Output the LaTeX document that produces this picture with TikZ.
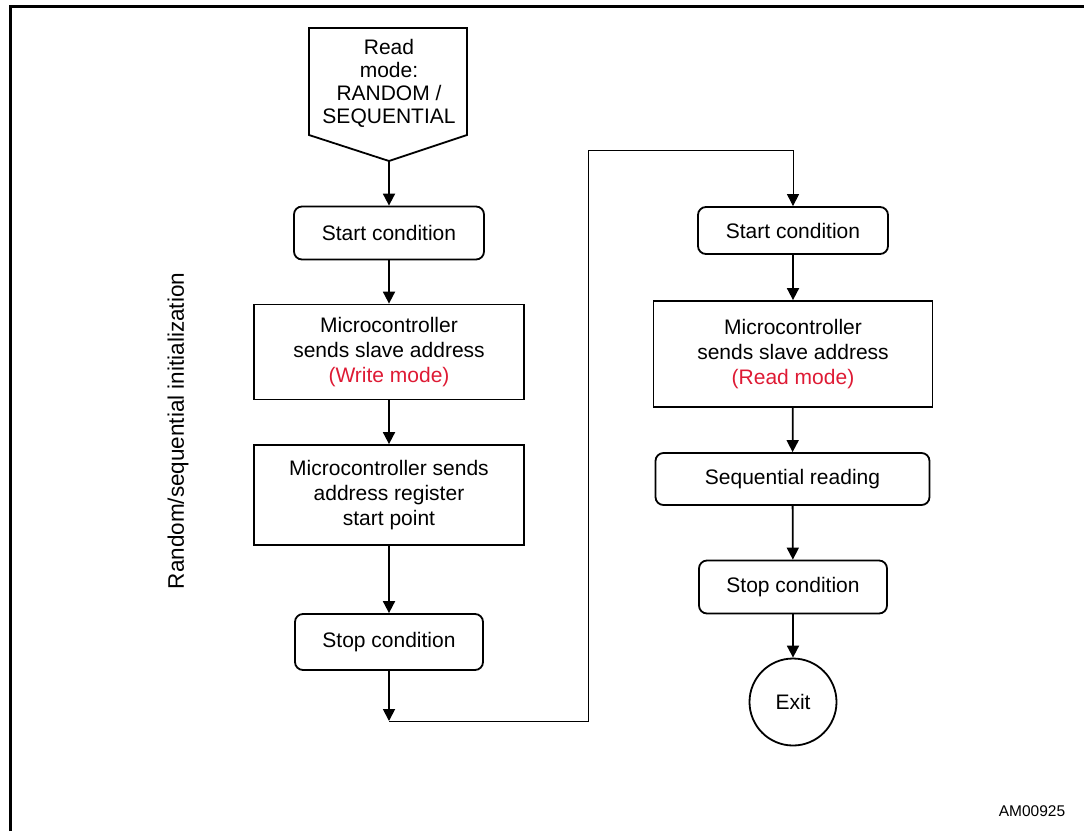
\documentclass[tikz,border=0pt]{standalone}
\usepackage{fontspec}
\setmainfont{Liberation Sans}
\usetikzlibrary{arrows.meta}
\definecolor{redtxt}{RGB}{222,26,52}
\tikzset{
  boxtext/.style={font=\fontsize{21}{25}\selectfont, align=center, inner sep=0pt},
  sqbox/.style={boxtext, draw, line width=1.8pt},
  rbox/.style={sqbox, rounded corners=8pt},
  arr/.style={line width=1.8pt, -{Triangle[width=12pt,length=12pt]}},
  thinarr/.style={line width=1pt, -{Triangle[width=12pt,length=12pt]}},
  loopline/.style={line width=1pt}
}
\begin{document}
\begin{tikzpicture}[x=1pt,y=-1pt]
\useasboundingbox (0,0) rectangle (1084,831);
% frame
\draw[line width=3pt] (10.5,831) -- (10.5,6.5) -- (1084,6.5);

% left column
\draw[line width=1.8pt] (309,28) -- (467,28) -- (467,135) -- (389,161) -- (309,135) -- cycle;
\node[boxtext, font=\fontsize{21}{23}\selectfont] (rm) at (389,83) {Read\\mode:\\RANDOM /\\SEQUENTIAL};
\coordinate (rmtip) at (389,161);

\node[rbox, minimum width=190pt, minimum height=53pt] (start1) at (389,233) {Start condition};
\node[sqbox, minimum width=270pt, minimum height=95pt] (micro1) at (389,352)
  {Microcontroller\\sends slave address\\\textcolor{redtxt}{(Write mode)}};
\node[sqbox, minimum width=270pt, minimum height=100pt] (micro2) at (389,495)
  {Microcontroller sends\\address register\\start point};
\node[rbox, minimum width=188pt, minimum height=56pt] (stop1) at (389,642) {Stop condition};
\coordinate (c1) at (389,721);
\coordinate (c2) at (588,721);
\coordinate (c3) at (588,150);
\coordinate (c4) at (793,150);

% right column
\node[rbox, minimum width=190pt, minimum height=47pt] (start2) at (793,230.5) {Start condition};
\node[sqbox, minimum width=279pt, minimum height=106pt] (micro3) at (793,354)
  {Microcontroller\\sends slave address\\\textcolor{redtxt}{(Read mode)}};
\node[rbox, minimum width=274pt, minimum height=52pt] (seq) at (792.5,479) {Sequential reading};
\node[rbox, minimum width=188pt, minimum height=53pt] (stop2) at (793,587) {Stop condition};
\node[boxtext, draw, line width=1.8pt, circle, minimum size=87pt] (exit) at (793,702) {Exit};

% connectors
\draw[arr] (rmtip) -- (start1.north);
\draw[arr] (start1) -- (micro1);
\draw[arr] (micro1) -- (micro2);
\draw[arr] (micro2) -- (stop1);
\draw[arr] (stop1) -- (c1);
\draw[loopline] (c1) -- (c2) -- (c3) -- (c4);
\draw[thinarr] (c4) -- (start2.north);
\draw[arr] (start2) -- (micro3);
\draw[arr] (micro3) -- (seq);
\draw[arr] (seq) -- (stop2);
\draw[arr] (stop2) -- (exit);

% labels
\node[font=\fontsize{22.5}{26}\selectfont, rotate=90, inner sep=0pt] (side) at (178,431) {Random/sequential initialization};
\node[font=\fontsize{15.5}{18}\selectfont, inner sep=0pt] (code) at (1032,811) {AM00925};
\end{tikzpicture}
\end{document}
